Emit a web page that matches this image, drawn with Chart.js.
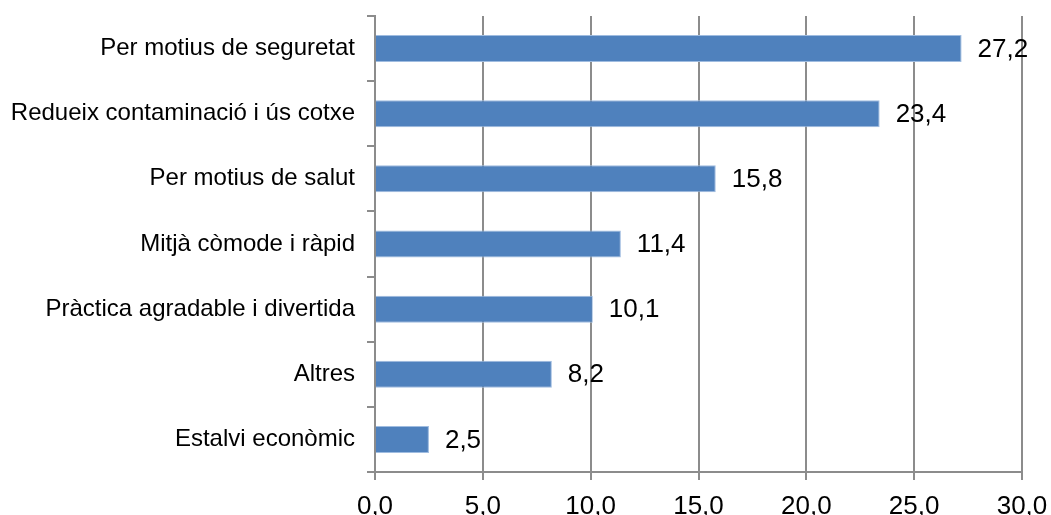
<!DOCTYPE html>
<html>
<head>
<meta charset="utf-8">
<script src="https://cdn.jsdelivr.net/npm/chart.js@4/dist/chart.umd.min.js"></script>
<style>
  html, body { margin: 0; padding: 0; background: #ffffff; }
  #wrap { width: 1051px; height: 515px; position: relative; }
</style>
</head>
<body>
<div id="wrap"><canvas id="barChart"></canvas></div>
<script>
// Categories and values
const categories = [
  'Per motius de seguretat',
  'Redueix contaminació i ús cotxe',
  'Per motius de salut',
  'Mitjà còmode i ràpid',
  'Pràctica agradable i divertida',
  'Altres',
  'Estalvi econòmic'
];
const values = [27.2, 23.4, 15.8, 11.4, 10.1, 8.2, 2.5];
const axisMin = 0;
const axisMax = 30;
const axisStep = 5;

const fontFamily = '"Liberation Sans", Arial, sans-serif';
const gridColor = '#8c8c8c';

// format numbers with a decimal comma, like the original
const fmt = v => Number(v).toFixed(1).replace('.', ',');

// Draws the value label just right of each bar
const valueLabels = {
  id: 'valueLabels',
  afterDatasetsDraw(chart) {
    const ctx = chart.ctx;
    const meta = chart.getDatasetMeta(0);
    ctx.save();
    ctx.font = '26px ' + fontFamily;
    ctx.fillStyle = '#000000';
    ctx.textAlign = 'left';
    ctx.textBaseline = 'middle';
    meta.data.forEach((bar, i) => {
      ctx.fillText(fmt(values[i]), bar.x + 16, bar.y + 1);
    });
    ctx.restore();
  }
};

const barChart = new Chart(document.getElementById('barChart').getContext('2d'), {
  type: 'bar',
  data: {
    labels: categories,
    datasets: [{
      data: values,
      backgroundColor: '#4F81BD',
      borderColor: '#9FBCE0',
      borderWidth: 1,
      borderSkipped: 'left',
      barPercentage: 0.415,
      categoryPercentage: 1.0
    }]
  },
  options: {
    indexAxis: 'y',
    responsive: true,
    maintainAspectRatio: false,
    animation: false,
    layout: {
      padding: { top: 16, right: 29, left: 0, bottom: 0 }
    },
    plugins: {
      legend: { display: false },
      tooltip: { enabled: false }
    },
    scales: {
      x: {
        min: axisMin,
        max: axisMax,
        ticks: {
          stepSize: axisStep,
          color: '#000000',
          padding: 11,
          font: { family: fontFamily, size: 26 },
          callback: value => fmt(value),
          maxRotation: 0
        },
        grid: {
          color: gridColor,
          lineWidth: 2,
          tickLength: 8,
          drawTicks: true
        },
        border: { color: gridColor, width: 2 },
        afterFit: scale => {
          scale.height = 43;
          scale.paddingLeft = 0;
          scale.paddingRight = 0;
        }
      },
      y: {
        offset: true,
        ticks: {
          color: '#000000',
          padding: 12,
          font: { family: fontFamily, size: 24 }
        },
        grid: {
          offset: true,
          drawOnChartArea: false,
          color: gridColor,
          lineWidth: 2,
          tickLength: 8
        },
        border: { color: gridColor, width: 2 },
        afterFit: scale => {
          scale.width = 375;
          scale.paddingTop = 0;
          scale.paddingBottom = 0;
        }
      }
    }
  },
  plugins: [valueLabels]
});
</script>
</body>
</html>
